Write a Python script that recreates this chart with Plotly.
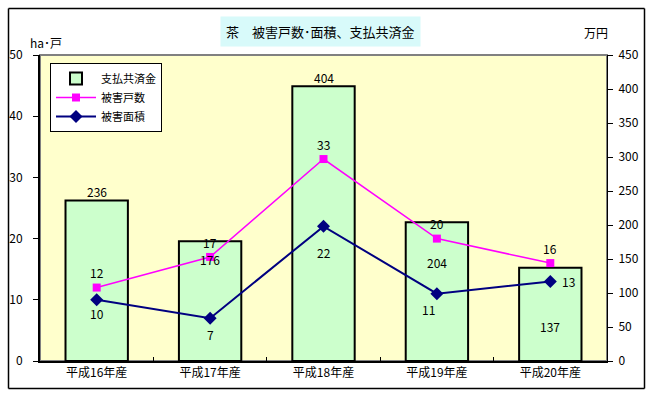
import plotly.graph_objects as go

categories = ["平成16年産", "平成17年産", "平成18年産", "平成19年産", "平成20年産"]
payment = [236, 176, 404, 204, 137]      # 支払共済金 (万円)
households = [12, 17, 33, 20, 16]       # 被害戸数
area = [10, 7, 22, 11, 13]              # 被害面積 (ha)

FONT = "Noto Sans CJK JP"

# label offsets (styling only)
pay_shift = [9, -18, 9, -40, -59]
hh_shift = [15, 14, 15, 15, 15]
area_off = [(0, -14), (0, -16), (0, -26), (-8, -16), (18, 0)]

W, H = 652, 395
L, R, T, B = 40, 45, 55, 34
PW, PH = W - L - R, H - T - B


def px(x):
    return (x - L) / PW


def py(y):
    return (H - B - y) / PH


fig = go.Figure()
fig.add_trace(go.Bar(
    x=categories, y=payment, name="支払共済金", yaxis="y",
    marker=dict(color="#CCFFCC", line=dict(color="black", width=2)),
))
fig.add_trace(go.Scatter(
    x=categories, y=households, name="被害戸数", yaxis="y2", mode="lines+markers",
    line=dict(color="#FF00FF", width=1.5),
    marker=dict(symbol="square", size=8, color="#FF00FF"),
))
fig.add_trace(go.Scatter(
    x=categories, y=area, name="被害面積", yaxis="y2", mode="lines+markers",
    line=dict(color="#000080", width=2),
    marker=dict(symbol="diamond", size=10, color="#000080"),
))

ann = []
for c, v, s in zip(categories, payment, pay_shift):
    ann.append(dict(x=c, y=v, yref="y", text=str(v), showarrow=False, yshift=s,
                    font=dict(size=12, color="black", family=FONT)))
for c, v, s in zip(categories, households, hh_shift):
    ann.append(dict(x=c, y=v, yref="y2", text=str(v), showarrow=False, yshift=s,
                    font=dict(size=12, color="black", family=FONT)))
for c, v, (dx, dy) in zip(categories, area, area_off):
    ann.append(dict(x=c, y=v, yref="y2", text=str(v), showarrow=False, xshift=dx, yshift=dy,
                    font=dict(size=12, color="black", family=FONT)))

ann += [
    dict(xref="paper", yref="paper", x=px(320), y=py(31.5), xanchor="center", yanchor="middle",
         text="茶　被害戸数･面積、支払共済金", showarrow=False,
         bgcolor="#D8FAFA", borderpad=5, font=dict(size=13, color="black", family=FONT)),
    dict(xref="paper", yref="paper", x=px(46), y=py(43), xanchor="center", yanchor="middle",
         text="ha･戸", showarrow=False, font=dict(size=12, color="black", family=FONT)),
    dict(xref="paper", yref="paper", x=px(596), y=py(32), xanchor="center", yanchor="middle",
         text="万円", showarrow=False, font=dict(size=12, color="black", family=FONT)),
]

fx0, fx1, fy0, fy1 = px(8.5), px(644.5), py(388.5), py(8.5)
frame = dict(xref="paper", yref="paper", type="line", layer="above",
             line=dict(color="black", width=1.5))
shapes = [
    dict(frame, x0=fx0, x1=fx1, y0=fy1, y1=fy1),
    dict(frame, x0=fx0, x1=fx1, y0=fy0, y1=fy0),
    dict(frame, x0=fx0, x1=fx0, y0=fy0, y1=fy1),
    dict(frame, x0=fx1, x1=fx1, y0=fy0, y1=fy1),
    dict(type="rect", xref="paper", yref="paper", x0=0, x1=1, y0=0, y1=1,
         line=dict(color="#808080", width=2), fillcolor="rgba(0,0,0,0)", layer="below"),
]

fig.update_layout(
    width=W, height=H,
    margin=dict(l=L, r=R, t=T, b=B, autoexpand=False),
    paper_bgcolor="white", plot_bgcolor="#FFFFCC",
    font=dict(family=FONT, size=12, color="black"),
    bargap=0.45,
    showlegend=True,
    legend=dict(x=px(50), y=py(63), xanchor="left", yanchor="top",
                bgcolor="white", bordercolor="black", borderwidth=1,
                font=dict(size=11, family=FONT), tracegroupgap=0, itemwidth=40),
    xaxis=dict(showgrid=False, showline=True, linecolor="black", linewidth=2,
               ticks="inside", tickson="boundaries", ticklen=4, tickcolor="black",
               tickfont=dict(size=12), automargin=False),
    yaxis=dict(side="right", range=[0, 450], dtick=50, showgrid=False, showline=True,
               linecolor="black", linewidth=1, ticks="outside", ticklen=5, tickcolor="black",
               tickfont=dict(size=12), zeroline=False, automargin=False, ticklabelstandoff=3),
    yaxis2=dict(side="left", overlaying="y", range=[0, 50], dtick=10, showgrid=False,
                showline=True, linecolor="black", linewidth=2, ticks="outside", ticklen=5,
                tickcolor="black", tickfont=dict(size=12), zeroline=False, automargin=False,
                ticklabelstandoff=8),
    annotations=ann,
    shapes=shapes,
)

fig.write_html("out.html", config={"displayModeBar": False},
               post_script="document.body.style.margin='0';document.body.style.overflow='hidden';")
